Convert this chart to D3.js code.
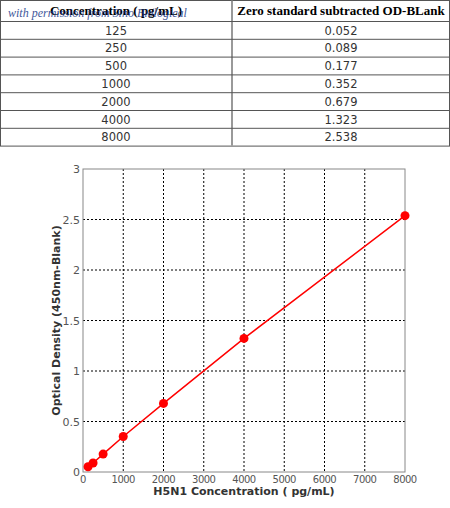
<!DOCTYPE html>
<html><head><meta charset="utf-8">
<script src="https://cdn.jsdelivr.net/npm/d3@7"></script>
<style>body{margin:0;background:#fff}</style>
</head><body>
<svg id="c" width="450" height="508"></svg>
<script>
var conc = [125, 250, 500, 1000, 2000, 4000, 8000];
var od = [0.052, 0.089, 0.177, 0.352, 0.679, 1.323, 2.538];
var odLabels = ["0.052", "0.089", "0.177", "0.352", "0.679", "1.323", "2.538"];
var xTicks = [0, 1000, 2000, 3000, 4000, 5000, 6000, 7000, 8000];
var yTicks = [0, 0.5, 1, 1.5, 2, 2.5, 3];

var svg = d3.select("#c");

// table
var rowH = 17.8, headH = 21, colX = 232;
var tb = svg.append("g");
tb.append("rect").attr("x", 0.5).attr("y", 0.5).attr("width", 449).attr("height", headH + rowH * conc.length)
  .attr("fill", "none").attr("stroke", "#555");
tb.append("line").attr("x1", colX).attr("x2", colX).attr("y1", 0).attr("y2", headH + rowH * conc.length)
  .attr("stroke", "#777").attr("stroke-width", 1.5);
d3.range(conc.length).forEach(function(i) {
  tb.append("line").attr("x1", 0).attr("x2", 450).attr("y1", headH + rowH * i + 0.5).attr("y2", headH + rowH * i + 0.5)
    .attr("stroke", "#555");
});
tb.selectAll("text.h").data(["Concentration ( pg/mL)", "Zero standard subtracted OD-BLank"]).enter().append("text")
  .attr("x", function(d, i) { return i ? (colX + 450) / 2 : colX / 2; }).attr("y", 15)
  .attr("text-anchor", "middle").style("font", "bold 13px 'Liberation Serif'").text(function(d) { return d; });
tb.append("text").attr("x", 8).attr("y", 17).style("font", "italic 12px 'Liberation Serif'")
  .attr("fill", "#1a3a8a").attr("opacity", 0.85).text("with permission from Sino Biological");
conc.forEach(function(c, i) {
  var y = headH + rowH * i + 13.5;
  tb.append("text").attr("x", colX / 2).attr("y", y).attr("text-anchor", "middle")
    .style("font", "11.5px 'DejaVu Sans'").attr("fill", "#333").text(c);
  tb.append("text").attr("x", (colX + 450) / 2).attr("y", y).attr("text-anchor", "middle")
    .style("font", "11.5px 'DejaVu Sans'").attr("fill", "#333").text(odLabels[i]);
});

// chart
var L = 83, R = 405, T = 169, B = 472;
var x = d3.scaleLinear().domain([0, 8000]).range([L, R]);
var y = d3.scaleLinear().domain([0, 3]).range([B, T]);
var g = svg.append("g");
g.selectAll("line.gx").data(xTicks.slice(1, -1)).enter().append("line")
  .attr("x1", x).attr("x2", x).attr("y1", T).attr("y2", B)
  .attr("stroke", "#000").attr("stroke-dasharray", "2,2");
g.selectAll("line.gy").data(yTicks.slice(1, -1)).enter().append("line")
  .attr("y1", y).attr("y2", y).attr("x1", L).attr("x2", R)
  .attr("stroke", "#000").attr("stroke-dasharray", "2,2");
g.append("rect").attr("x", L).attr("y", T).attr("width", R - L).attr("height", B - T)
  .attr("fill", "none").attr("stroke", "#888");
g.selectAll("text.xt").data(xTicks).enter().append("text")
  .attr("x", x).attr("y", B + 11).attr("text-anchor", "middle")
  .style("font", "10px 'DejaVu Sans'").attr("fill", "#555").attr("letter-spacing", "-0.5")
  .text(function(d) { return d; });
g.selectAll("text.yt").data(yTicks).enter().append("text")
  .attr("x", L - 3).attr("y", function(d) { return y(d) + 4; }).attr("text-anchor", "end")
  .style("font", "11px 'DejaVu Sans'").attr("fill", "#555")
  .text(function(d) { return d; });
g.append("text").attr("x", (L + R) / 2).attr("y", 495).attr("text-anchor", "middle")
  .style("font", "bold 11px 'DejaVu Sans'").attr("fill", "#333").text("H5N1 Concentration  ( pg/mL)");
g.append("text").attr("transform", "translate(60," + (T + B) / 2 + ") rotate(-90)").attr("text-anchor", "middle")
  .style("font", "bold 11px 'DejaVu Sans'").attr("fill", "#333").text("Optical Density (450nm-Blank)");

var pts = conc.map(function(c, i) { return [c, od[i]]; });
g.append("path").datum(pts)
  .attr("d", d3.line().x(function(d) { return x(d[0]); }).y(function(d) { return y(d[1]); }))
  .attr("fill", "none").attr("stroke", "#f00").attr("stroke-width", 1.5);
g.selectAll("circle").data(pts).enter().append("circle")
  .attr("cx", function(d) { return x(d[0]); }).attr("cy", function(d) { return y(d[1]); })
  .attr("r", 4.5).attr("fill", "#f00");
</script>
</body></html>
